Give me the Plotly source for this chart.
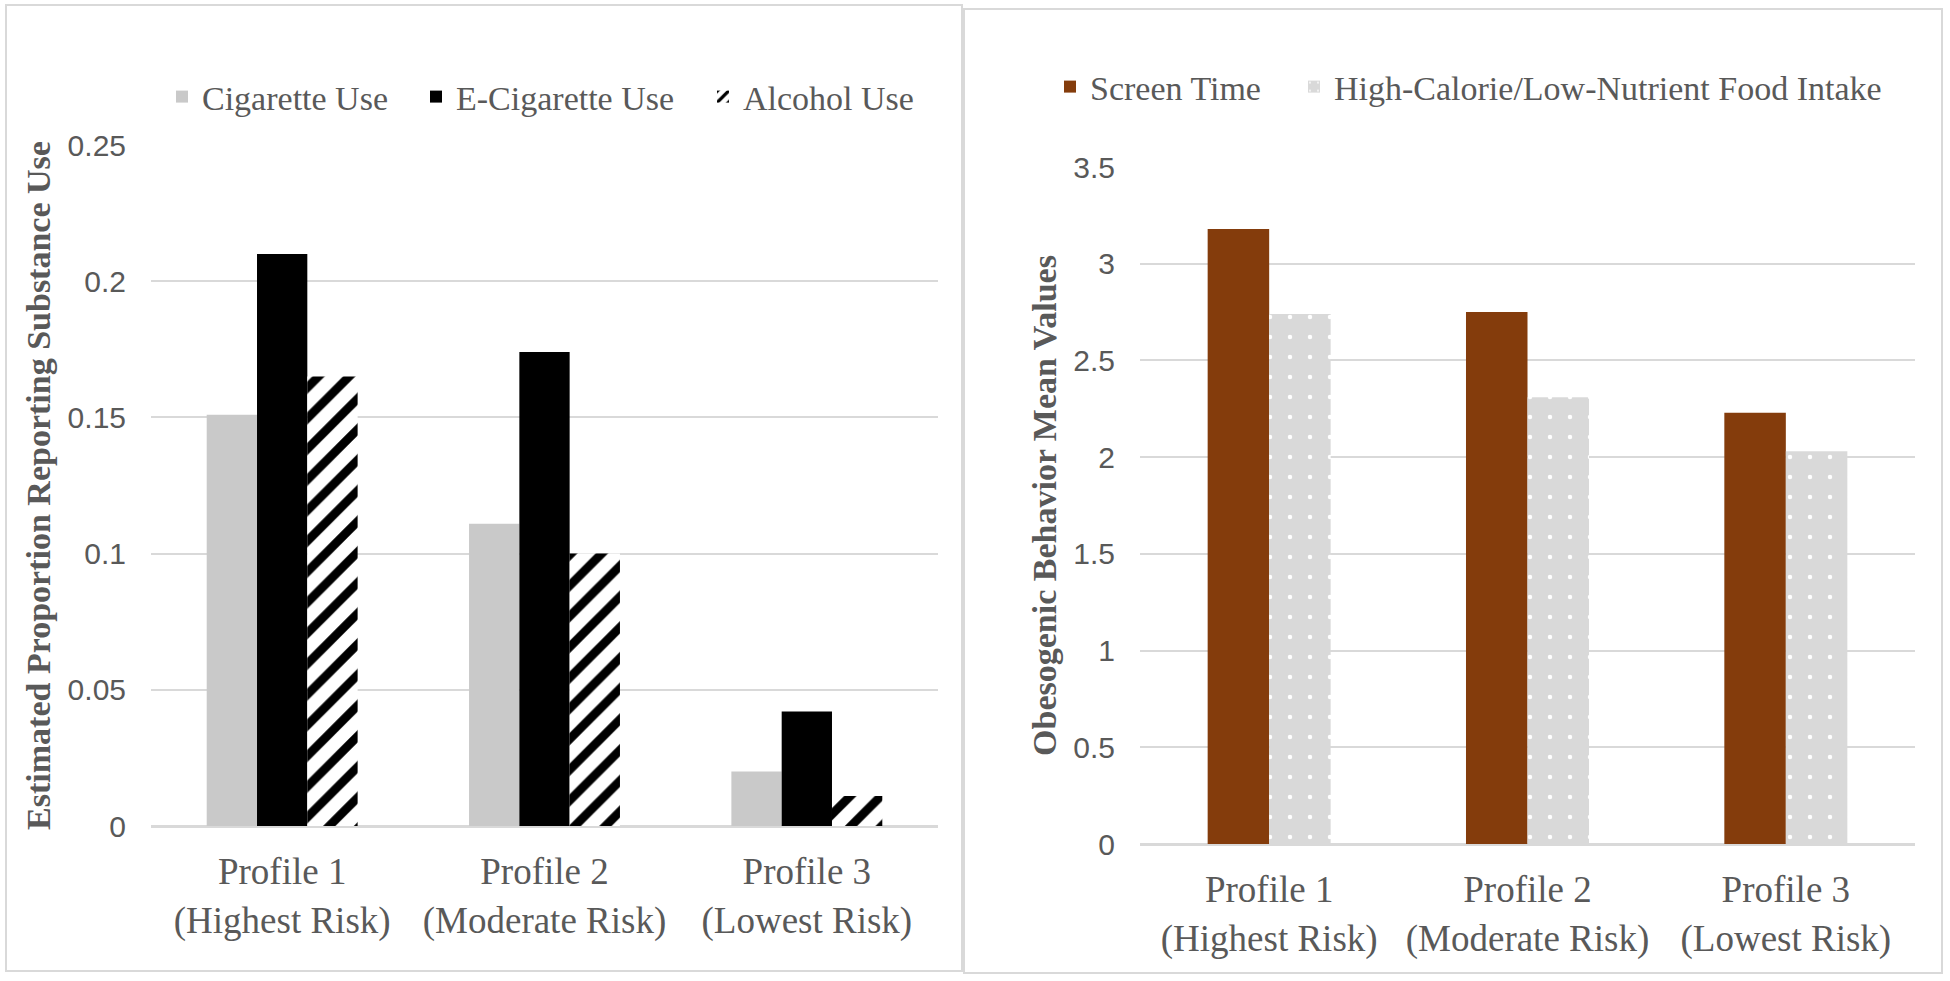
import plotly.graph_objects as go

# ---------------- data ----------------
profiles = ["Profile 1<br>(Highest Risk)", "Profile 2<br>(Moderate Risk)", "Profile 3<br>(Lowest Risk)"]

cigarette_use = [0.151, 0.111, 0.020]
ecigarette_use = [0.210, 0.174, 0.042]
alcohol_use = [0.165, 0.100, 0.011]

screen_time = [3.18, 2.75, 2.23]
food_intake = [2.74, 2.31, 2.03]

# ---------------- style ----------------
W, H = 1950, 981
GRAY_TXT = "#595959"
GRID = "#D9D9D9"
SERIF = "Liberation Serif"
SANS = "Liberation Sans"


def px(x):
    return x / W


def py(y):
    return 1 - y / H


wl = 50.3 / 262.3   # left bar width in category units
wr = 61.5 / 258.3   # right bar width in category units

fig = go.Figure()

fig.add_trace(go.Bar(
    x=profiles, y=cigarette_use, name="Cigarette Use",
    width=wl, offset=-1.5 * wl,
    marker=dict(color="#C9C9C9", line=dict(width=0)),
    xaxis="x", yaxis="y", legend="legend"))
fig.add_trace(go.Bar(
    x=profiles, y=ecigarette_use, name="E-Cigarette Use",
    width=wl, offset=-0.5 * wl,
    marker=dict(color="#000000", line=dict(width=0)),
    xaxis="x", yaxis="y", legend="legend2"))
fig.add_trace(go.Bar(
    x=profiles, y=alcohol_use, name="Alcohol Use",
    width=wl, offset=0.5 * wl,
    marker=dict(color="white", line=dict(width=0),
                pattern=dict(shape="/", fgcolor="black", bgcolor="white",
                             size=21.7, solidity=0.4, fillmode="replace")),
    xaxis="x", yaxis="y", legend="legend3"))

fig.add_trace(go.Bar(
    x=profiles, y=screen_time, name="Screen Time",
    width=wr, offset=-wr,
    marker=dict(color="#843C0C", line=dict(width=0)),
    xaxis="x2", yaxis="y2", legend="legend4"))
fig.add_trace(go.Bar(
    x=profiles, y=food_intake, name="High-Calorie/Low-Nutrient Food Intake",
    width=wr, offset=0,
    marker=dict(color="#D9D9D9", line=dict(width=0),
                pattern=dict(shape=".", fgcolor="white", bgcolor="#D9D9D9",
                             size=20, solidity=0.04, fillmode="replace")),
    xaxis="x2", yaxis="y2", legend="legend5"))

cat_font = dict(family=SERIF, size=37, color=GRAY_TXT)
num_font = dict(family=SANS, size=30, color=GRAY_TXT)
title_font = dict(family=SERIF, size=34, color=GRAY_TXT, weight="bold")
leg_font = dict(family=SERIF, size=34, color=GRAY_TXT)


def xaxis_cfg(d0, d1, anchor):
    return dict(domain=[px(d0), px(d1)], anchor=anchor, type="category",
                categoryorder="array", categoryarray=profiles,
                tickfont=cat_font, showgrid=False, ticks="",
                showline=True, linecolor=GRID, linewidth=2,
                ticklabelstandoff=12, automargin=False, fixedrange=True)


def yaxis_cfg(d0, d1, anchor, rng, dtick, title, standoff):
    return dict(domain=[py(d0), py(d1)], anchor=anchor, range=rng, dtick=dtick,
                showgrid=True, gridcolor=GRID, gridwidth=2,
                zeroline=True, zerolinecolor=GRID, zerolinewidth=2,
                showline=False, ticks="", tickfont=num_font,
                ticklabelstandoff=24, automargin=False,
                title=dict(text=title, font=title_font, standoff=standoff),
                fixedrange=True)


def legend_cfg(text_x, yc):
    return dict(x=px(text_x - 40), y=py(yc), xanchor="left", yanchor="middle",
                orientation="h", font=leg_font, bgcolor="rgba(0,0,0,0)",
                borderwidth=0)


fig.update_layout(
    template="none",
    width=W, height=H, autosize=False,
    margin=dict(l=0, r=0, t=0, b=0, pad=0, autoexpand=False),
    paper_bgcolor="white", plot_bgcolor="white",
    barmode="overlay",
    showlegend=True,
    xaxis=xaxis_cfg(151, 938, "y"),
    yaxis=yaxis_cfg(826, 145, "x", [0, 0.25], 0.05,
                    "Estimated Proportion Reporting Substance Use", 6),
    xaxis2=xaxis_cfg(1140, 1915, "y2"),
    yaxis2=yaxis_cfg(844, 167, "x2", [0, 3.5], 0.5,
                     "Obesogenic Behavior Mean Values", 6),
    legend=legend_cfg(202, 97),
    legend2=legend_cfg(456, 97),
    legend3=legend_cfg(743, 97),
    legend4=legend_cfg(1090, 87),
    legend5=legend_cfg(1334, 87),
    shapes=[
        dict(type="rect", xref="paper", yref="paper",
             x0=px(6), x1=px(962), y0=py(971), y1=py(5),
             line=dict(color=GRID, width=2), fillcolor="rgba(0,0,0,0)", layer="below"),
        dict(type="rect", xref="paper", yref="paper",
             x0=px(964), x1=px(1942), y0=py(973), y1=py(9),
             line=dict(color=GRID, width=2), fillcolor="rgba(0,0,0,0)", layer="below"),
    ],
)

fig.write_html("out.html", config={"displayModeBar": False},
               post_script="document.body.style.margin='0px';document.body.style.overflow='hidden';")
